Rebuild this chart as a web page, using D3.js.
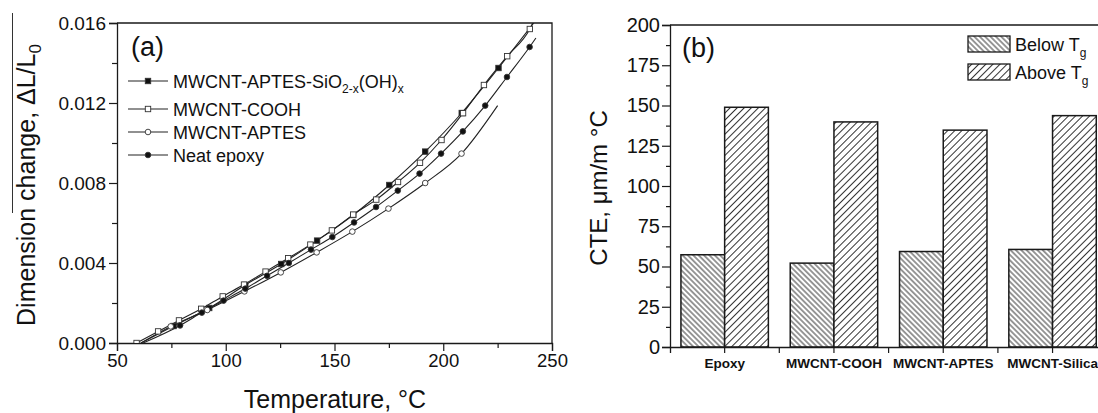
<!DOCTYPE html>
<html>
<head>
<meta charset="utf-8">
<script src="https://cdn.jsdelivr.net/npm/d3@7"></script>
<style>
  body { margin: 0; background: #fff; }
  svg { font-family: "Liberation Sans", Arial, sans-serif; }
</style>
</head>
<body>
<div id="chart"></div>
<script>
// ---- panel (a): dimension change vs temperature ----
var tempTicks = [50, 100, 150, 200, 250];
var tempMinor = [75, 125, 175, 225];
var dimTicks = [0, 0.004, 0.008, 0.012, 0.016];
var dimMinor = [0.002, 0.006, 0.010, 0.014];

// MWCNT-APTES-SiO2-x(OH)x  (filled squares)
var siloxT  = [76, 92.4, 109, 125.5, 142, 158.6, 175.2, 191.7, 208.5, 225.4];
var siloxDL = [0.00085, 0.00175, 0.0029, 0.00395, 0.00512, 0.0064, 0.0079, 0.00957, 0.0115, 0.01375];
var siloxStart = [61, 0], siloxEnd = [243, 0.0162];

// MWCNT-COOH  (open squares)
var coohT  = [59, 68.9, 78.5, 88.7, 98.6, 108.4, 118.3, 128.7, 138.9, 148.8, 158.6, 169.2, 179.2, 189.3, 199.2, 209.1, 218.7, 229.4, 239.8];
var coohDL = [0, 0.00058, 0.00113, 0.00171, 0.00233, 0.00292, 0.00357, 0.00424, 0.00492, 0.00563, 0.00642, 0.00717, 0.00805, 0.00901, 0.01015, 0.01149, 0.0129, 0.01434, 0.0157];
var coohEnd = [242, 0.0162];

// MWCNT-APTES  (open circles)
var aptesT  = [74.7, 91.5, 108.6, 125.3, 141.8, 158.2, 174.8, 191.7, 208.4];
var aptesDL = [0.00083, 0.00165, 0.00258, 0.00353, 0.00453, 0.00557, 0.00672, 0.008, 0.00947];
var aptesStart = [61, 0], aptesEnd = [225, 0.01187];

// Neat epoxy  (filled circles)
var neatT  = [79, 89, 99, 109, 119, 129, 139.2, 149, 159, 169.1, 179.1, 189.1, 199, 209, 219.3, 229.3, 239.7];
var neatDL = [0.00088, 0.00152, 0.00212, 0.00272, 0.00336, 0.004, 0.00467, 0.0053, 0.00603, 0.0068, 0.00762, 0.00847, 0.00947, 0.01058, 0.01187, 0.0133, 0.0148];
var neatStart = [62, 0], neatEnd = [242.6, 0.01525];

// ---- panel (b): CTE bars ----
var samples = ["Epoxy", "MWCNT-COOH", "MWCNT-APTES", "MWCNT-Silica"];
var cteBelow = [57.3, 52.1, 59.3, 60.6];
var cteAbove = [148.9, 139.8, 134.7, 143.7];
var cteTicks = [0, 25, 50, 75, 100, 125, 150, 175, 200];
var cteMinor = [12.5, 37.5, 62.5, 87.5, 112.5, 137.5, 162.5, 187.5];

var W = 1098, H = 413;
var svg = d3.select("#chart").append("svg").attr("width", W).attr("height", H);
var ink = "#1a1a1a";

function pts(xs, ys) { return xs.map(function (d, i) { return [d, ys[i]]; }); }

// ===================== panel (a) =====================
var x = d3.scaleLinear().domain([50, 250]).range([117, 552]);
var y = d3.scaleLinear().domain([0, 0.016]).range([343, 23]);

svg.append("clipPath").attr("id", "clipA")
  .append("rect").attr("x", 117).attr("y", 23).attr("width", 435).attr("height", 320);

var gA = svg.append("g");

function axisStyle(g) {
  g.select(".domain").attr("stroke", ink).attr("stroke-width", 1.3);
  g.selectAll(".tick line").attr("stroke", ink).attr("stroke-width", 1.2);
  g.selectAll(".tick text").attr("fill", "#111");
}

gA.append("g").attr("transform", "translate(0,343)")
  .call(d3.axisBottom(x).tickValues(tempTicks).tickSize(8).tickPadding(3).tickFormat(d3.format("d")))
  .call(axisStyle)
  .selectAll("text").style("font-size", "18.5px").style("font-family", "Liberation Sans, Arial");
gA.append("g").attr("transform", "translate(0,343)")
  .call(d3.axisBottom(x).tickValues(tempMinor).tickSize(5).tickFormat(""))
  .call(axisStyle).select(".domain").remove();

gA.append("g").attr("transform", "translate(117,0)")
  .call(d3.axisLeft(y).tickValues(dimTicks).tickSize(8).tickPadding(3).tickFormat(d3.format(".3f")))
  .call(axisStyle)
  .selectAll("text").style("font-size", "19px").style("font-family", "Liberation Sans, Arial");
gA.append("g").attr("transform", "translate(117,0)")
  .call(d3.axisLeft(y).tickValues(dimMinor).tickSize(5).tickFormat(""))
  .call(axisStyle).select(".domain").remove();

// frame top and right
gA.append("path").attr("d", "M117,23H552V343").attr("fill", "none").attr("stroke", ink).attr("stroke-width", 1.3);

var line = d3.line().x(function (d) { return x(d[0]); }).y(function (d) { return y(d[1]); })
  .curve(d3.curveMonotoneX);

var series = [
  { name: "silox", pts: [siloxStart].concat(pts(siloxT, siloxDL), [siloxEnd]), marks: pts(siloxT, siloxDL), shape: "square", fill: "#111" },
  { name: "cooh", pts: pts(coohT, coohDL).concat([coohEnd]), marks: pts(coohT, coohDL), shape: "square", fill: "#fff" },
  { name: "aptes", pts: [aptesStart].concat(pts(aptesT, aptesDL), [aptesEnd]), marks: pts(aptesT, aptesDL), shape: "circle", fill: "#fff" },
  { name: "neat", pts: [neatStart].concat(pts(neatT, neatDL), [neatEnd]), marks: pts(neatT, neatDL), shape: "circle", fill: "#111" }
];

var plotA = gA.append("g").attr("clip-path", "url(#clipA)");
series.forEach(function (s) {
  plotA.append("path").datum(s.pts).attr("d", line)
    .attr("fill", "none").attr("stroke", "#222").attr("stroke-width", 1.1);
});
series.forEach(function (s) {
  drawMarks(plotA, s.marks.map(function (d) { return [x(d[0]), y(d[1])]; }), s.shape, s.fill);
});

function drawMarks(g, xy, shape, fill) {
  if (shape === "square") {
    g.selectAll(null).data(xy).enter().append("rect")
      .attr("x", function (d) { return d[0] - 2.7; }).attr("y", function (d) { return d[1] - 2.7; })
      .attr("width", 5.4).attr("height", 5.4)
      .attr("fill", fill).attr("stroke", "#333").attr("stroke-width", 0.9);
  } else {
    g.selectAll(null).data(xy).enter().append("circle")
      .attr("cx", function (d) { return d[0]; }).attr("cy", function (d) { return d[1]; })
      .attr("r", 2.8)
      .attr("fill", fill).attr("stroke", "#333").attr("stroke-width", 0.9);
  }
}

// legend (a)
var legRows = [81, 109, 132, 155];
series.forEach(function (s, i) {
  gA.append("line").attr("x1", 128).attr("x2", 168).attr("y1", legRows[i]).attr("y2", legRows[i])
    .attr("stroke", "#222").attr("stroke-width", 1.1);
  drawMarks(gA, [[148, legRows[i]]], s.shape, s.fill);
});
var legA = gA.append("g").style("font-size", "18px").attr("fill", "#111");
var t0 = legA.append("text").attr("x", 173).attr("y", legRows[0] + 6.5);
t0.append("tspan").text("MWCNT-APTES-SiO");
t0.append("tspan").attr("dy", 5).style("font-size", "12px").text("2-x");
t0.append("tspan").attr("dy", -5).text("(OH)");
t0.append("tspan").attr("dy", 5).style("font-size", "12px").text("x");
legA.append("text").attr("x", 173).attr("y", legRows[1] + 6.5).text("MWCNT-COOH");
legA.append("text").attr("x", 173).attr("y", legRows[2] + 6.5).text("MWCNT-APTES");
legA.append("text").attr("x", 173).attr("y", legRows[3] + 6.5).text("Neat epoxy");

gA.append("text").attr("x", 131).attr("y", 56).style("font-size", "27px").attr("fill", "#111").text("(a)");

// axis titles (a)
gA.append("text").attr("x", 335).attr("y", 408).attr("text-anchor", "middle")
  .style("font-size", "25px").attr("fill", "#111").text("Temperature, \u00B0C");
var yt = gA.append("text").attr("transform", "translate(35,185) rotate(-90)").attr("text-anchor", "middle")
  .style("font-size", "25px").attr("fill", "#111");
yt.append("tspan").text("Dimension change,  \u0394L/L");
yt.append("tspan").attr("dy", 6).style("font-size", "17px").text("0");
// stray rule beside the title in the source figure
gA.append("line").attr("x1", 12.5).attr("x2", 12.5).attr("y1", 13).attr("y2", 213)
  .attr("stroke", "#333").attr("stroke-width", 1);

// ===================== panel (b) =====================
var defs = svg.append("defs");
function hatch(id, gap, angle) {
  var p = defs.append("pattern").attr("id", id).attr("patternUnits", "userSpaceOnUse")
    .attr("width", gap).attr("height", gap).attr("patternTransform", "rotate(" + angle + ")");
  p.append("rect").attr("width", gap).attr("height", gap).attr("fill", "#fff");
  p.append("line").attr("x1", gap / 2).attr("x2", gap / 2).attr("y1", 0).attr("y2", gap)
    .attr("stroke", "#333").attr("stroke-width", 1);
}
hatch("hBelow", 3.8, -45);
hatch("hAbove", 5, 45);

var xb = d3.scaleBand().domain(samples).range([670, 1107.2]).padding(0);
var sub = d3.scaleBand().domain(["below", "above"]).range([0.1 * xb.bandwidth(), 0.9 * xb.bandwidth()]).padding(0);
var yb = d3.scaleLinear().domain([0, 200]).range([347, 25]);

var gB = svg.append("g");

gB.selectAll(null).data(samples).enter().append("rect")
  .attr("x", function (d) { return xb(d) + sub("below"); })
  .attr("y", function (d, i) { return yb(cteBelow[i]); })
  .attr("width", sub.bandwidth())
  .attr("height", function (d, i) { return yb(0) - yb(cteBelow[i]); })
  .attr("fill", "url(#hBelow)").attr("stroke", ink).attr("stroke-width", 1.5);
gB.selectAll(null).data(samples).enter().append("rect")
  .attr("x", function (d) { return xb(d) + sub("above"); })
  .attr("y", function (d, i) { return yb(cteAbove[i]); })
  .attr("width", sub.bandwidth())
  .attr("height", function (d, i) { return yb(0) - yb(cteAbove[i]); })
  .attr("fill", "url(#hAbove)").attr("stroke", ink).attr("stroke-width", 1.5);

gB.append("g").attr("transform", "translate(670,0)")
  .call(d3.axisLeft(yb).tickValues(cteTicks).tickSize(8).tickPadding(2))
  .call(axisStyle)
  .selectAll("text").style("font-size", "20px").style("font-family", "Liberation Sans, Arial");
gB.append("g").attr("transform", "translate(670,0)")
  .call(d3.axisLeft(yb).tickValues(cteMinor).tickSize(4).tickFormat(""))
  .call(axisStyle).select(".domain").remove();

var xAxB = gB.append("g").attr("transform", "translate(0,347)")
  .call(d3.axisBottom(xb).tickSize(6).tickPadding(5))
  .call(axisStyle);
xAxB.selectAll("text").style("font-size", "13.5px").style("font-weight", "bold")
  .style("font-family", "Liberation Sans, Arial");
// boundary ticks between categories
xAxB.selectAll(null).data(samples.slice(1)).enter().append("line")
  .attr("x1", function (d) { return xb(d); }).attr("x2", function (d) { return xb(d); })
  .attr("y1", 0).attr("y2", 6).attr("stroke", ink).attr("stroke-width", 1.2);

gB.append("path").attr("d", "M670,25H1107.2V347").attr("fill", "none").attr("stroke", ink).attr("stroke-width", 1.3);

gB.append("text").attr("x", 682).attr("y", 57).style("font-size", "27px").attr("fill", "#111").text("(b)");

// legend (b)
[["hBelow", "Below T", 36], ["hAbove", "Above T", 64]].forEach(function (d) {
  gB.append("rect").attr("x", 968).attr("y", d[2]).attr("width", 42).attr("height", 16)
    .attr("fill", "url(#" + d[0] + ")").attr("stroke", ink).attr("stroke-width", 1.3);
  var t = gB.append("text").attr("x", 1015).attr("y", d[2] + 15).style("font-size", "18px").attr("fill", "#111");
  t.append("tspan").text(d[1]);
  t.append("tspan").attr("dy", 6).style("font-size", "12px").text("g");
});

gB.append("text").attr("transform", "translate(607,188) rotate(-90)").attr("text-anchor", "middle")
  .style("font-size", "24px").attr("fill", "#111").text("CTE, \u03BCm/m \u00B0C");
</script>
</body>
</html>
